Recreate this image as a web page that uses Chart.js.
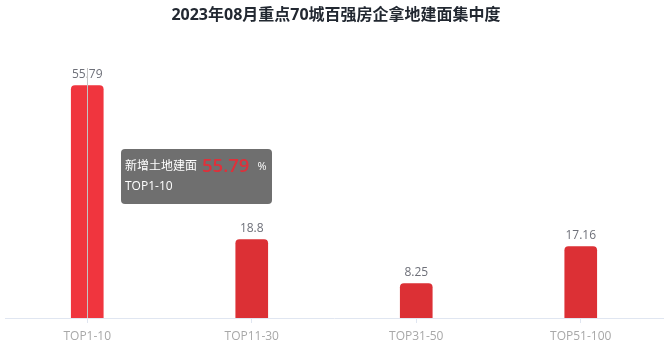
<!DOCTYPE html>
<html>
<head>
<meta charset="utf-8">
<script src="https://cdn.jsdelivr.net/npm/chart.js@4/dist/chart.umd.min.js"></script>
<style>
html,body{margin:0;padding:0;background:#fff;}
#wrap{width:672px;height:358px;position:relative;}
</style>
</head>
<body>
<div id="wrap"><canvas id="c" width="672" height="358"></canvas></div>
<script>
const titleText = '2023年08月重点70城百强房企拿地建面集中度';
const categories = ['TOP1-10', 'TOP11-30', 'TOP31-50', 'TOP51-100'];
const values = [55.79, 18.8, 8.25, 17.16];
const seriesName = '新增土地建面';
const unit = '%';
const activeIndex = 0;

const FONT = '"Open Sans", "Noto Sans CJK SC", sans-serif';
const normalColor = '#dc3035';
const activeColor = '#f0353e';

const overlay = {
  id: 'overlay',
  afterDatasetsDraw(chart) {
    const ctx = chart.ctx;
    const meta = chart.getDatasetMeta(0);
    const area = chart.chartArea;
    ctx.save();
    // title
    ctx.font = 'bold 16px ' + FONT;
    ctx.fillStyle = '#222831';
    ctx.textAlign = 'center';
    ctx.textBaseline = 'middle';
    ctx.fillText(titleText, chart.width / 2, 15);
    // value labels
    ctx.font = '12px ' + FONT;
    ctx.fillStyle = '#6e7079';
    ctx.textBaseline = 'alphabetic';
    meta.data.forEach((bar, i) => {
      ctx.fillText(String(values[i]), bar.x, bar.y - 7.5);
    });
    // axis pointer
    const ab = meta.data[activeIndex];
    const px = Math.round(ab.x) + 0.5;
    ctx.strokeStyle = '#c4c4c4';
    ctx.lineWidth = 1;
    ctx.beginPath();
    ctx.moveTo(px, area.top);
    ctx.lineTo(px, area.bottom);
    ctx.stroke();
    // tooltip
    const bx = Math.round(ab.x) + 34, by = 149, bw = 151, bh = 55;
    ctx.fillStyle = 'rgba(50,50,50,0.7)';
    ctx.beginPath();
    ctx.roundRect(bx, by, bw, bh, 4);
    ctx.fill();
    ctx.textAlign = 'left';
    ctx.textBaseline = 'alphabetic';
    ctx.fillStyle = '#ffffff';
    ctx.font = '12px ' + FONT;
    ctx.fillText(seriesName, bx + 4, by + 21);
    let w = ctx.measureText(seriesName).width;
    ctx.font = '600 18.5px ' + FONT;
    ctx.fillStyle = '#e0303a';
    const v = String(values[activeIndex]);
    ctx.fillText(v, bx + 4 + w + 5, by + 23);
    const w2 = ctx.measureText(v).width;
    ctx.font = '11px ' + FONT;
    ctx.fillStyle = '#ffffff';
    ctx.fillText(unit, bx + 4 + w + 5 + w2 + 8, by + 21);
    ctx.font = '12px ' + FONT;
    ctx.fillText(categories[activeIndex], bx + 4, by + 41);
    ctx.restore();
  }
};

new Chart(document.getElementById('c'), {
  type: 'bar',
  data: {
    labels: categories,
    datasets: [{
      data: values,
      backgroundColor: values.map((_, i) => i === activeIndex ? activeColor : normalColor),
      borderRadius: {topLeft: 4, topRight: 4, bottomLeft: 0, bottomRight: 0},
      borderSkipped: false,
      barThickness: 32
    }]
  },
  options: {
    responsive: false,
    animation: false,
    events: [],
    layout: {padding: {top: 68, left: 5, right: 9, bottom: 0}},
    plugins: {legend: {display: false}, tooltip: {enabled: false}, title: {display: false}},
    scales: {
      y: {display: false, min: 0, max: 60},
      x: {
        offset: true,
        grid: {offset: false, drawOnChartArea: false, drawTicks: true, tickLength: 5, tickColor: '#e0e6f1'},
        border: {display: true, color: '#e0e6f1', width: 1},
        ticks: {color: '#a8a8a8', font: {size: 12, family: FONT}, padding: 6},
        afterFit(scale) { scale.height = 40; }
      }
    }
  },
  plugins: [overlay]
});
</script>
</body>
</html>
